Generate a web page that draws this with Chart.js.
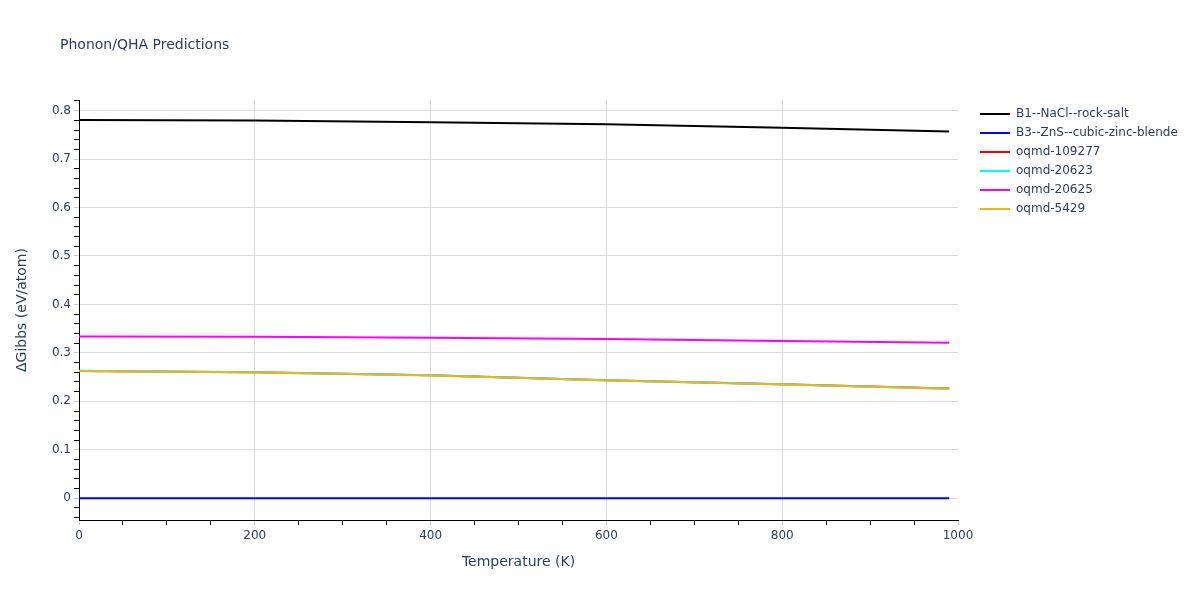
<!DOCTYPE html>
<html>
<head>
<meta charset="utf-8">
<script src="https://cdn.jsdelivr.net/npm/chart.js@4.4.1/dist/chart.umd.min.js"></script>
<style>
  html, body { margin: 0; padding: 0; background: #fff; }
  #wrap { width: 1200px; height: 600px; }
</style>
</head>
<body>
<div id="wrap"><canvas id="qha-chart" width="1200" height="600"></canvas></div>
<script>
"use strict";

// temperatures (K) sampled along the curves
const temps = [0, 200, 400, 600, 800, 990];

const seriesNames = ['B1--NaCl--rock-salt', 'B3--ZnS--cubic-zinc-blende', 'oqmd-109277', 'oqmd-20623', 'oqmd-20625', 'oqmd-5429'];
const seriesColors = ['#000000', '#0000ff', '#ff0000', '#00ffff', '#ff00ff', '#e6b820'];

const rockSalt = [0.7808, 0.7797, 0.7762, 0.7720, 0.7645, 0.7572];
const zincBlende = [0, 0, 0, 0, 0, 0];
const oqmd109277 = [0.2628, 0.2600, 0.2537, 0.2434, 0.2350, 0.2262];
const oqmd20623 = [0.2630, 0.2602, 0.2540, 0.2436, 0.2352, 0.2258];
const oqmd20625 = [0.3340, 0.3335, 0.3314, 0.3285, 0.3244, 0.3210];
const oqmd5429 = [0.2624, 0.2597, 0.2535, 0.2432, 0.2349, 0.2260];

const allSeries = [rockSalt, zincBlende, oqmd109277, oqmd20623, oqmd20625, oqmd5429];

const textColor = '#2a3f5f';
const fontFamily = '"DejaVu Sans", Verdana, sans-serif';

function isMajor(v, step) {
    return Math.abs(v / step - Math.round(v / step)) < 1e-6;
}

const datasets = [];
for (let i = 0; i < seriesNames.length; i++) {
    datasets.push({
        label: seriesNames[i],
        data: temps.map((t, j) => ({ x: t, y: allSeries[i][j] })),
        borderColor: seriesColors[i],
        backgroundColor: seriesColors[i],
        borderWidth: 2,
        pointRadius: 0,
        tension: 0,
        fill: false,
        order: seriesNames.length - i, // later traces on top, like plotly
    });
}

// plotly-like title and legend drawn on the canvas
const decorPlugin = {
    id: 'decor',
    afterDraw(chart) {
        const ctx = chart.ctx;
        ctx.save();
        ctx.fillStyle = textColor;
        ctx.font = '14px ' + fontFamily;
        ctx.textBaseline = 'middle';
        ctx.textAlign = 'left';
        ctx.fillText('Phonon/QHA Predictions', 60, 45);

        ctx.font = '12px ' + fontFamily;
        chart.data.datasets.forEach((ds, i) => {
            const y = 114 + i * 19;
            ctx.strokeStyle = ds.borderColor;
            ctx.lineWidth = 2;
            ctx.beginPath();
            ctx.moveTo(980, y);
            ctx.lineTo(1010, y);
            ctx.stroke();
            ctx.fillStyle = textColor;
            ctx.fillText(ds.label, 1016, y);
        });
        ctx.restore();
    }
};

const ctx = document.getElementById('qha-chart').getContext('2d');

new Chart(ctx, {
    type: 'line',
    data: { datasets: datasets },
    plugins: [decorPlugin],
    options: {
        responsive: false,
        animation: false,
        layout: { padding: { top: 100, right: 242, left: 0, bottom: 0 } },
        plugins: {
            legend: { display: false },
            title: { display: false },
            tooltip: { enabled: false },
        },
        scales: {
            x: {
                type: 'linear',
                min: 0,
                max: 1000,
                afterFit: (s) => { s.height = 80; },
                border: { display: true, color: '#000', width: 1 },
                grid: {
                    color: (c) => isMajor(c.tick.value, 200) && c.tick.value > 0 && c.tick.value < 1000 ? '#dcdcdc' : 'rgba(0,0,0,0)',
                    tickColor: (c) => isMajor(c.tick.value, 200) ? '#cccccc' : '#000',
                    tickLength: 5,
                    drawOnChartArea: true,
                },
                ticks: {
                    stepSize: 50,
                    includeBounds: false,
                    autoSkip: false,
                    maxRotation: 0,
                    padding: 4,
                    color: textColor,
                    font: { family: fontFamily, size: 12 },
                    callback: (v) => isMajor(v, 200) ? String(Math.round(v)) : '',
                },
                title: {
                    display: true,
                    text: 'Temperature (K)',
                    color: textColor,
                    font: { family: fontFamily, size: 14 },
                    padding: { top: 0, bottom: 29 },
                },
            },
            y: {
                type: 'linear',
                min: -0.045,
                max: 0.822,
                afterFit: (s) => { s.width = 79; },
                border: { display: true, color: '#000', width: 1 },
                grid: {
                    color: (c) => isMajor(c.tick.value, 0.1) ? '#dcdcdc' : 'rgba(0,0,0,0)',
                    tickColor: (c) => isMajor(c.tick.value, 0.1) ? '#cccccc' : '#000',
                    tickLength: 5,
                },
                ticks: {
                    stepSize: 0.02,
                    includeBounds: false,
                    autoSkip: false,
                    padding: 3,
                    color: textColor,
                    font: { family: fontFamily, size: 12 },
                    callback: (v) => {
                        if (!isMajor(v, 0.1)) return '';
                        const r = Math.round(v * 10) / 10;
                        return r === 0 ? '0' : r.toFixed(1);
                    },
                },
                title: {
                    display: true,
                    text: 'ΔGibbs (eV/atom)',
                    color: textColor,
                    font: { family: fontFamily, size: 14 },
                    padding: { top: 14, bottom: 0 },
                },
            },
        },
    },
});
</script>
</body>
</html>
